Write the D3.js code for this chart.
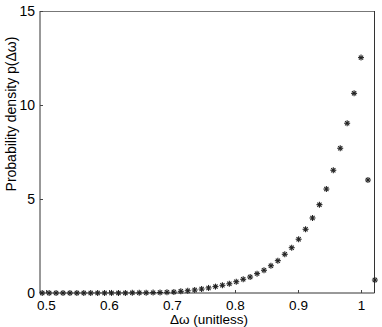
<!DOCTYPE html>
<html><head><meta charset="utf-8">
<script src="https://cdn.jsdelivr.net/npm/d3@7"></script>
<style>
html,body{margin:0;padding:0;background:#fff;}
svg{display:block;font-family:"Liberation Sans",Arial,sans-serif;}
</style></head>
<body><svg id="c" width="382" height="327"></svg>
<script>
const xValues = [0.494,0.505,0.516,0.527,0.538,0.549,0.560,0.571,0.582,0.593,0.604,0.615,0.626,0.637,0.648,0.659,0.670,0.681,0.692,0.703,0.714,0.725,0.736,0.747,0.758,0.769,0.780,0.791,0.802,0.813,0.824,0.835,0.846,0.857,0.868,0.879,0.890,0.901,0.912,0.923,0.934,0.945,0.956,0.967,0.978,0.989,1.000,1.011,1.022];
const density = [0,0,0,0,0,0,0.001,0.001,0.002,0.003,0.004,0.005,0.006,0.008,0.010,0.012,0.02,0.03,0.04,0.05,0.09,0.12,0.16,0.21,0.27,0.34,0.41,0.49,0.60,0.73,0.85,1.03,1.21,1.45,1.72,2.06,2.41,2.86,3.39,3.99,4.70,5.53,6.53,7.70,9.03,10.62,12.52,6.01,0.69];
const xTicks = [0.5,0.6,0.7,0.8,0.9,1];
const xTickLabels = ["0.5","0.6","0.7","0.8","0.9","1"];
const yTicks = [0,5,10,15];
const yTickLabels = ["0","5","10","15"];
const xLabel = "Δω (unitless)";
const yLabel = "Probability density p(Δω)";

const svg = d3.select("#c");
const L = 40, R = 374.5, T = 11, B = 293;
const x = d3.scaleLinear().domain([0.4905, 1.0214]).range([L, R]);
const y = d3.scaleLinear().domain([0, 15]).range([B, T]);

// box
svg.append("line").attr("x1",L).attr("x2",R).attr("y1",T+0.5).attr("y2",T+0.5).attr("stroke","#777");
svg.append("line").attr("x1",L).attr("x2",L).attr("y1",T).attr("y2",B).attr("stroke","#333").attr("stroke-width",1);
svg.append("line").attr("x1",R).attr("x2",R).attr("y1",T).attr("y2",B).attr("stroke","#333").attr("stroke-width",1);
svg.append("line").attr("x1",L).attr("x2",R).attr("y1",B).attr("y2",B).attr("stroke","#333").attr("stroke-width",1);

// x axis
const xAxis = d3.axisBottom(x).tickValues(xTicks).tickFormat((d,i)=>xTickLabels[i]).tickSizeInner(-3).tickSizeOuter(0).tickPadding(7);
const gx = svg.append("g").attr("transform",`translate(0,${B})`).call(xAxis);
gx.select(".domain").remove();
gx.selectAll("line").attr("stroke","#444");
gx.selectAll("text").attr("font-size","13.5px").attr("fill","#000").attr("dy","0.71em");

// y axis
const yAxis = d3.axisLeft(y).tickValues(yTicks).tickFormat((d,i)=>yTickLabels[i]).tickSizeInner(-3).tickSizeOuter(0).tickPadding(5);
const gy = svg.append("g").attr("transform",`translate(${L},0)`).call(yAxis);
gy.select(".domain").remove();
gy.selectAll("line").attr("stroke","#444");
gy.selectAll("text").attr("font-size","14px").attr("fill","#000");

// labels
svg.append("text").attr("x",209).attr("y",324).attr("text-anchor","middle").attr("font-size","13.5px").text(xLabel);
svg.append("text").attr("transform","translate(16,114) rotate(-90)").attr("text-anchor","middle").attr("font-size","14px").text(yLabel);

// asterisk markers
const s = 3;
const g = svg.append("g").attr("stroke","#222").attr("stroke-width",1.1);
xValues.forEach((xv,i)=>{
  const cx = x(xv), cy = y(density[i]);
  const m = g.append("g").attr("transform",`translate(${cx},${cy})`);
  m.append("line").attr("x1",-s).attr("x2",s).attr("y1",0).attr("y2",0);
  m.append("line").attr("x1",0).attr("x2",0).attr("y1",-s).attr("y2",s);
  m.append("line").attr("x1",-s*0.7).attr("x2",s*0.7).attr("y1",-s*0.7).attr("y2",s*0.7);
  m.append("line").attr("x1",-s*0.7).attr("x2",s*0.7).attr("y1",s*0.7).attr("y2",-s*0.7);
});
</script></body></html>
